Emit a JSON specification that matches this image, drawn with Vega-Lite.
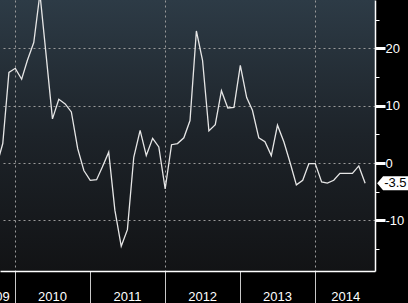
{
  "$schema": "https://vega.github.io/schema/vega-lite/v6.json",
  "autosize": {"type": "none"},
  "padding": {"left": 0, "top": 0, "right": 33, "bottom": 32},
  "width": 375,
  "height": 271,
  "background": "#000000",
  "config": {
    "view": {
      "stroke": null,
      "fill": {
        "gradient": "linear",
        "x1": 0, "y1": 0, "x2": 0, "y2": 1,
        "stops": [
          {"offset": 0, "color": "#2d3b46"},
          {"offset": 0.5, "color": "#1d2329"},
          {"offset": 1, "color": "#121315"}
        ]
      }
    },
    "axis": {"labelFont": "Liberation Sans", "labelFontSize": 13, "labelColor": "#ffffff", "title": null}
  },
  "data": {
    "values": [
      {"date": "2009-10-01", "value": -0.6},
      {"date": "2009-11-01", "value": 3.4},
      {"date": "2009-12-01", "value": 15.8},
      {"date": "2010-01-01", "value": 16.5},
      {"date": "2010-02-01", "value": 14.6},
      {"date": "2010-03-01", "value": 17.9},
      {"date": "2010-04-01", "value": 21.0},
      {"date": "2010-05-01", "value": 29.5},
      {"date": "2010-06-01", "value": 18.5},
      {"date": "2010-07-01", "value": 7.7},
      {"date": "2010-08-01", "value": 11.1},
      {"date": "2010-09-01", "value": 10.3},
      {"date": "2010-10-01", "value": 8.9},
      {"date": "2010-11-01", "value": 2.5},
      {"date": "2010-12-01", "value": -1.3},
      {"date": "2011-01-01", "value": -3.0},
      {"date": "2011-02-01", "value": -2.9},
      {"date": "2011-03-01", "value": -0.7},
      {"date": "2011-04-01", "value": 1.9},
      {"date": "2011-05-01", "value": -8.2},
      {"date": "2011-06-01", "value": -14.5},
      {"date": "2011-07-01", "value": -11.6},
      {"date": "2011-08-01", "value": 1.0},
      {"date": "2011-09-01", "value": 5.7},
      {"date": "2011-10-01", "value": 1.3},
      {"date": "2011-11-01", "value": 4.3},
      {"date": "2011-12-01", "value": 2.8},
      {"date": "2012-01-01", "value": -4.5},
      {"date": "2012-02-01", "value": 3.2},
      {"date": "2012-03-01", "value": 3.4},
      {"date": "2012-04-01", "value": 4.4},
      {"date": "2012-05-01", "value": 7.4},
      {"date": "2012-06-01", "value": 23.0},
      {"date": "2012-07-01", "value": 17.9},
      {"date": "2012-08-01", "value": 5.6},
      {"date": "2012-09-01", "value": 6.7},
      {"date": "2012-10-01", "value": 12.6},
      {"date": "2012-11-01", "value": 9.6},
      {"date": "2012-12-01", "value": 9.7},
      {"date": "2013-01-01", "value": 17.0},
      {"date": "2013-02-01", "value": 11.4},
      {"date": "2013-03-01", "value": 9.2},
      {"date": "2013-04-01", "value": 4.4},
      {"date": "2013-05-01", "value": 3.7},
      {"date": "2013-06-01", "value": 1.3},
      {"date": "2013-07-01", "value": 6.6},
      {"date": "2013-08-01", "value": 3.7},
      {"date": "2013-09-01", "value": 0.0},
      {"date": "2013-10-01", "value": -3.8},
      {"date": "2013-11-01", "value": -3.0},
      {"date": "2013-12-01", "value": -0.1},
      {"date": "2014-01-01", "value": -0.1},
      {"date": "2014-02-01", "value": -3.3},
      {"date": "2014-03-01", "value": -3.5},
      {"date": "2014-04-01", "value": -3.0},
      {"date": "2014-05-01", "value": -1.8},
      {"date": "2014-06-01", "value": -1.8},
      {"date": "2014-07-01", "value": -1.8},
      {"date": "2014-08-01", "value": -0.5},
      {"date": "2014-09-01", "value": -3.5}
    ]
  },
  "encoding": {
    "x": {
      "field": "date",
      "type": "temporal",
      "scale": {
        "type": "utc",
        "domain": [
          {"year": 2009, "month": 10, "date": 18, "hours": 12, "utc": true},
          {"year": 2014, "month": 10, "date": 19, "utc": true}
        ]
      },
      "axis": {
        "orient": "bottom",
        "values": [
          {"year": 2009, "month": 12, "date": 2, "utc": true},
          {"year": 2010, "month": 1, "date": 1, "utc": true},
          {"year": 2010, "month": 6, "date": 29, "utc": true},
          {"year": 2011, "month": 1, "date": 1, "utc": true},
          {"year": 2011, "month": 6, "date": 29, "utc": true},
          {"year": 2012, "month": 1, "date": 1, "utc": true},
          {"year": 2012, "month": 6, "date": 29, "utc": true},
          {"year": 2013, "month": 1, "date": 1, "utc": true},
          {"year": 2013, "month": 6, "date": 29, "utc": true},
          {"year": 2014, "month": 1, "date": 1, "utc": true},
          {"year": 2014, "month": 5, "date": 27, "utc": true}
        ],
        "labelExpr": "(utcmonth(datum.value) == 0 && utcdate(datum.value) == 1) ? '' : '' + utcyear(datum.value)",
        "labelAlign": {"condition": {"test": "utcyear(datum.value) == 2009", "value": "right"}, "value": "center"},
        "labelOverlap": false,
        "labelFlush": false,
        "labelBound": false,
        "labelBaseline": "alphabetic",
        "labelPadding": -2.5,
        "domain": true,
        "domainColor": "#ffffff",
        "domainWidth": 1.5,
        "ticks": true,
        "tickSize": 32,
        "tickWidth": 1,
        "tickColor": "#c8c8c8",
        "tickOpacity": {"condition": {"test": "utcmonth(datum.value) == 0 && utcdate(datum.value) == 1", "value": 1}, "value": 0},
        "grid": true,
        "gridColor": "#9a9a9a",
        "gridDash": [2, 3],
        "gridWidth": 1,
        "gridOpacity": {"condition": {"test": "utcmonth(datum.value) == 0 && utcdate(datum.value) == 1 && utcyear(datum.value) % 2 == 0", "value": 1}, "value": 0}
      }
    },
    "y": {
      "field": "value",
      "type": "quantitative",
      "scale": {"domain": [-18.8, 28.4], "nice": false, "zero": false},
      "axis": {
        "orient": "right",
        "values": [25, 20, 15, 10, 5, 0, -5, -10, -15],
        "labelExpr": "datum.value % 10 == 0 ? '' + datum.value : ''",
        "labelOverlap": false,
        "labelFlush": false,
        "labelBaseline": "middle",
        "labelPadding": 0,
        "domain": true,
        "domainColor": "#ffffff",
        "domainWidth": 1.5,
        "ticks": true,
        "tickColor": "#ffffff",
        "tickSize": {"condition": {"test": "datum.value % 10 == 0", "value": 10}, "value": 4},
        "tickWidth": {"condition": {"test": "datum.value % 10 == 0", "value": 3}, "value": 1},
        "grid": true,
        "gridColor": "#9a9a9a",
        "gridDash": [2, 3],
        "gridWidth": 1,
        "gridOpacity": {"condition": {"test": "datum.value % 10 == 0", "value": 1}, "value": 0}
      }
    }
  },
  "layer": [
    {
      "mark": {"type": "line", "color": "#e6e6e6", "strokeWidth": 1.3, "clip": true}
    },
    {
      "transform": [{"filter": "utcyear(datum.date) == 2014 && utcmonth(datum.date) == 8"}],
      "mark": {
        "type": "point",
        "filled": true,
        "color": "#ffffff",
        "opacity": 1,
        "size": 196,
        "shape": "M0,0L0.85,-1L5,-1L5,1L0.85,1Z",
        "xOffset": 12
      }
    },
    {
      "transform": [{"filter": "utcyear(datum.date) == 2014 && utcmonth(datum.date) == 8"}],
      "mark": {
        "type": "text",
        "align": "left",
        "baseline": "middle",
        "font": "Liberation Sans",
        "fontSize": 13,
        "color": "#000000",
        "xOffset": 19
      },
      "encoding": {"text": {"field": "value", "type": "nominal"}}
    }
  ]
}
